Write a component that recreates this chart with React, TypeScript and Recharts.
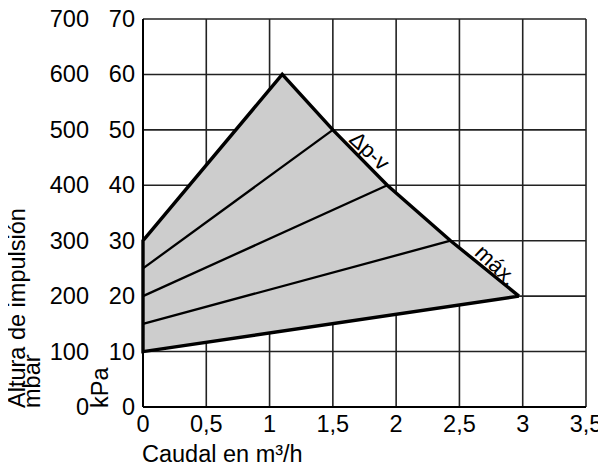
import { ComposedChart, Area, Line, XAxis, YAxis, CartesianGrid, ReferenceDot } from 'recharts';

// Caudal (m³/h) and altura de impulsión (mbar)
const flowTicks = [0, 0.5, 1, 1.5, 2, 2.5, 3, 3.5];
const flowTickLabels = ['0', '0,5', '1', '1,5', '2', '2,5', '3', '3,5'];
const mbarTicks = [0, 100, 200, 300, 400, 500, 600, 700];
const kpaTicks = [0, 10, 20, 30, 40, 50, 60, 70];

// envelope of the characteristic field
const fieldFlow = [0, 1.1, 1.5, 1.93, 2.43, 2.97];
const fieldUpper = [300, 600, 500, 400, 300, 200];
const fieldLower = [100, 137, 150, 165, 182, 200];

// outline: bottom edge, left edge, then Δp-v max curve
const outlineFlow = [2.97, 0, 0, 1.1, 1.5, 1.93, 2.43, 2.97];
const outlineHead = [200, 100, 300, 600, 500, 400, 300, 200];

// Δp-v setpoint lines
const setFlow = [[0, 1.5], [0, 1.93], [0, 2.43]];
const setHead = [[250, 500], [200, 400], [150, 300]];

const fieldRows = fieldFlow.map((q, i) => ({ q, range: [fieldLower[i], fieldUpper[i]] }));
const outlineRows = outlineFlow.map((q, i) => ({ q, h: outlineHead[i] }));
const setRows = setFlow.map((qs, k) => qs.map((q, i) => ({ q, h: setHead[k][i] })));

const FONT = '"Liberation Sans", Arial, sans-serif';
const FS = 23.5;

function YTick(props: any) {
  const { x, y, payload } = props;
  const i = mbarTicks.indexOf(payload.value);
  return (
    <g fontFamily={FONT} fontSize={FS} fill="#000">
      <text x={x - 46} y={y} textAnchor="end" dominantBaseline="central">{mbarTicks[i]}</text>
      <text x={x} y={y} textAnchor="end" dominantBaseline="central">{kpaTicks[i]}</text>
    </g>
  );
}

function XTick(props: any) {
  const { x, y, payload } = props;
  const i = flowTicks.indexOf(payload.value);
  return (
    <text x={x} y={y} dy="0.71em" textAnchor="middle" fontFamily={FONT} fontSize={FS} fill="#000">
      {flowTickLabels[i]}
    </text>
  );
}

function rotatedLabel(text: string) {
  return (p: any) => {
    const vb = p.viewBox || {};
    const cx = vb.x + (vb.width || 0) / 2;
    const cy = vb.y + (vb.height || 0) / 2;
    return (
      <text x={cx} y={cy} textAnchor="middle" dominantBaseline="central" transform={`rotate(43 ${cx} ${cy})`}
        fontFamily={FONT} fontSize={22} fill="#000">
        {text}
      </text>
    );
  };
}

export default function App() {
  return (
    <div style={{ margin: '-8px 0 0 -8px', width: 606, height: 470 }}>
      <ComposedChart
        width={606}
        height={470}
        data={fieldRows}
        margin={{ top: 19, right: 20, left: 8, bottom: 2 }}
      >
        <CartesianGrid stroke="#222" strokeWidth={1.6} />
        <XAxis
          dataKey="q"
          type="number"
          domain={[0, 3.5]}
          ticks={flowTicks}
          tickLine={false}
          tickMargin={2}
          height={61}
          axisLine={{ stroke: '#000', strokeWidth: 2 }}
          tick={<XTick />}
          label={{
            content: (p: any) => (
              <text x={p.viewBox.x - 1} y={p.viewBox.y + 55} fontFamily={FONT} fontSize={FS} fill="#000">
                Caudal en m³/h
              </text>
            ),
          }}
        />
        <YAxis
          type="number"
          domain={[0, 700]}
          ticks={mbarTicks}
          width={135}
          tickLine={false}
          axisLine={{ stroke: '#000', strokeWidth: 2 }}
          tick={<YTick />}
          label={{
            content: (p: any) => {
              const b = p.viewBox.y + p.viewBox.height + 1;
              return (
                <g fontFamily={FONT} fontSize={FS} fill="#000">
                  <text x={25} y={b} transform={`rotate(-90 25 ${b})`}>Altura de impulsión</text>
                  <text x={40} y={b} transform={`rotate(-90 40 ${b})`}>mbar</text>
                  <text x={108} y={b} transform={`rotate(-90 108 ${b})`}>kPa</text>
                </g>
              );
            },
          }}
        />
        <Area
          type="linear"
          dataKey="range"
          fill="#cdcdcd"
          fillOpacity={1}
          stroke="none"
          isAnimationActive={false}
        />
        {setRows.map((rows, k) => (
          <Line
            key={k}
            data={rows}
            dataKey="h"
            type="linear"
            stroke="#000"
            strokeWidth={2.3}
            dot={false}
            activeDot={false}
            isAnimationActive={false}
          />
        ))}
        <Line
          data={outlineRows}
          dataKey="h"
          type="linear"
          stroke="#000"
          strokeWidth={3.4}
          strokeLinejoin="miter"
          dot={false}
          activeDot={false}
          isAnimationActive={false}
        />
        <ReferenceDot x={1.79} y={462} r={0} stroke="none" label={{ content: rotatedLabel('Δp-v') }} />
        <ReferenceDot x={2.79} y={256} r={0} stroke="none" label={{ content: rotatedLabel('máx.') }} />
      </ComposedChart>
    </div>
  );
}
